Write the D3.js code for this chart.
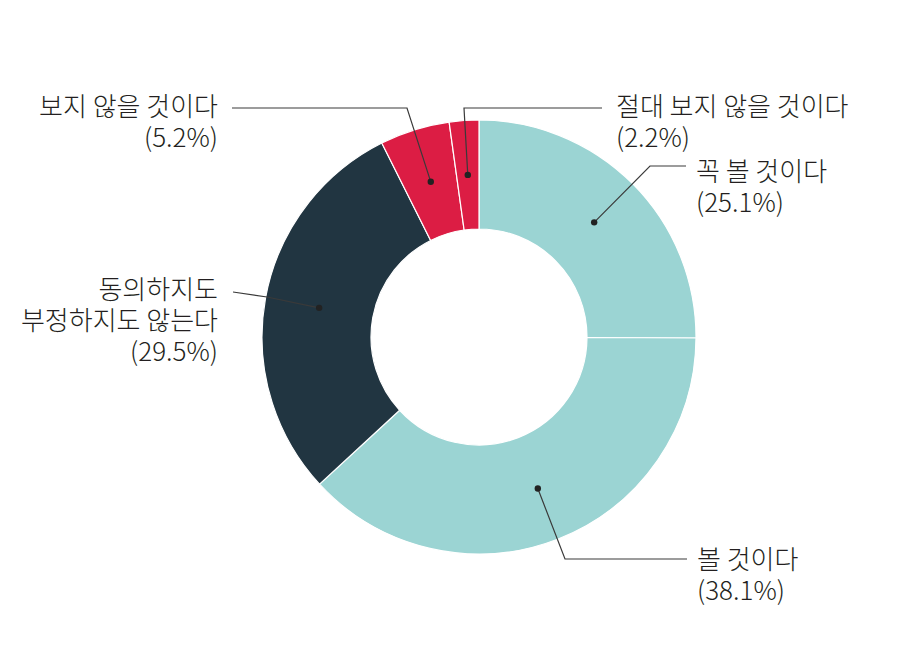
<!DOCTYPE html>
<html>
<head>
<meta charset="utf-8">
<script src="https://cdn.jsdelivr.net/npm/d3@7"></script>
<style>
  body { margin: 0; background: #fff; }
  text { font-family: "Noto Sans CJK KR", "Noto Sans", sans-serif; fill: #231f20; }
</style>
</head>
<body>
<svg width="902" height="656"></svg>
<script>
(function () {
  "use strict";
  const categories = ["꼭 볼 것이다", "볼 것이다", "동의하지도 부정하지도 않는다", "보지 않을 것이다", "절대 보지 않을 것이다"];
  const values = [25.1, 38.1, 29.5, 5.2, 2.2];
  const colors = ["#9bd4d3", "#9bd4d3", "#213541", "#dc1d44", "#dc1d44"];
  // label text lines, one entry per category
  const labelLines = [
    ["꼭 볼 것이다", "(25.1%)"],
    ["볼 것이다", "(38.1%)"],
    ["동의하지도", "부정하지도 않는다", "(29.5%)"],
    ["보지 않을 것이다", "(5.2%)"],
    ["절대 보지 않을 것이다", "(2.2%)"]
  ];
  // leader layout: elbow point, line end, text anchor, first baseline
  const leaders = [
    { elbow: [650, 166], end: [686, 166], tx: 696, ty: 181, anchor: "start" },
    { elbow: [565, 559], end: [687, 559], tx: 697, ty: 569, anchor: "start" },
    { elbow: [267, 297], end: [233, 292], tx: 218, ty: 299, anchor: "end" },
    { elbow: [407, 108], end: [232, 108], tx: 218, ty: 116, anchor: "end" },
    { elbow: [464, 108], end: [602, 108], tx: 616, ty: 116, anchor: "start" }
  ];

  const svg = d3.select("svg");
  const cx = 479, cy = 337;
  const outer = 217, inner = 108;
  const lineH = 31;

  const pie = d3.pie().sort(null).value(d => d);
  const arc = d3.arc().innerRadius(inner).outerRadius(outer);
  const arcs = pie(values);

  const g = svg.append("g").attr("transform", `translate(${cx}, ${cy})`);
  g.selectAll("path.slice")
    .data(arcs)
    .join("path")
    .attr("class", "slice")
    .attr("d", arc)
    .attr("fill", (d, i) => colors[i])
    .attr("stroke", "#fff")
    .attr("stroke-width", 1.2);

  arcs.forEach((d, i) => {
    const c = arc.centroid(d);
    const p = [c[0] + cx, c[1] + cy];
    const L = leaders[i];
    svg.append("path")
      .attr("d", d3.line()([p, L.elbow, L.end]))
      .attr("fill", "none")
      .attr("stroke", "#3a3a3a")
      .attr("stroke-width", 1.2);
    svg.append("circle")
      .attr("cx", p[0])
      .attr("cy", p[1])
      .attr("r", 3.2)
      .attr("fill", "#222");
    const t = svg.append("text")
      .attr("x", L.tx)
      .attr("y", L.ty)
      .attr("text-anchor", L.anchor)
      .attr("font-size", 26)
      .attr("font-weight", 300)
      .attr("aria-label", categories[i]);
    labelLines[i].forEach((s, k) => {
      t.append("tspan").attr("x", L.tx).attr("y", L.ty + k * lineH).text(s);
    });
  });
})();
</script>
</body>
</html>
